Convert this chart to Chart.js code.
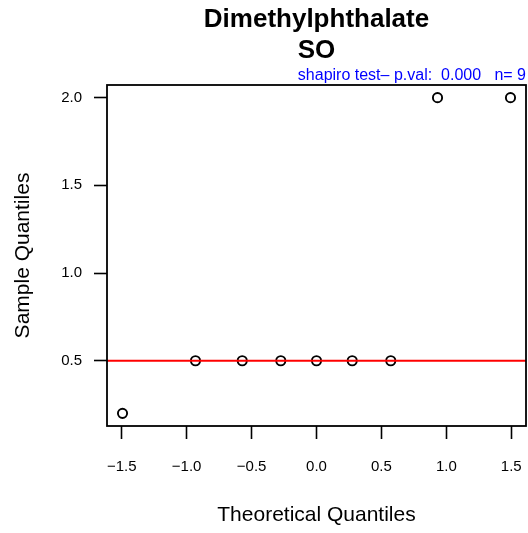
<!DOCTYPE html>
<html>
<head>
<meta charset="utf-8">
<script src="https://cdn.jsdelivr.net/npm/chart.js@4/dist/chart.umd.min.js"></script>
<style>
  html, body { margin: 0; padding: 0; background: #ffffff; }
  #wrap { width: 528px; height: 533px; }
</style>
</head>
<body>
<div id="wrap"><canvas id="c" width="528" height="533"></canvas></div>
<script>
// ---- data ----
const titleLines = ["Dimethylphthalate", "SO"];
const subtitleText = "shapiro test\u2013 p.val:  0.000   n= 9";
const xAxisTitle = "Theoretical Quantiles";
const yAxisTitle = "Sample Quantiles";
const theoreticalQuantiles = [-1.494, -0.932, -0.572, -0.275, 0, 0.275, 0.572, 0.932, 1.494];
const sampleQuantiles = [0.2, 0.5, 0.5, 0.5, 0.5, 0.5, 0.5, 2.0, 2.0];
const qqLineY = [0.5, 0.5];
const qqLineX = [-1.7, 1.7];
const xTicks = [-1.5, -1.0, -0.5, 0.0, 0.5, 1.0, 1.5];
const yTicks = [0.5, 1.0, 1.5, 2.0];
const xRange = [-1.6135, 1.6135];
const yRange = [0.128, 2.072];

const FONT = "'Liberation Sans', Arial, Helvetica, sans-serif";

const points = theoreticalQuantiles.map((x, i) => ({ x: x, y: sampleQuantiles[i] }));
const linePts = qqLineX.map((x, i) => ({ x: x, y: qqLineY[i] }));

function fmt(v) {
  const s = Number(v).toFixed(1);
  return s.replace('-', '\u2212');
}

const boxAndTitles = {
  id: 'boxAndTitles',
  afterDatasetsDraw(chart) {
    const ctx = chart.ctx;
    const a = chart.chartArea;
    ctx.save();
    ctx.strokeStyle = '#000';
    ctx.lineWidth = 1.8;
    ctx.strokeRect(a.left, a.top, a.right - a.left, a.bottom - a.top);
    ctx.restore();
  },
  afterDraw(chart) {
    const ctx = chart.ctx;
    const a = chart.chartArea;
    const cx = (a.left + a.right) / 2;
    ctx.save();
    ctx.fillStyle = '#000';
    ctx.textAlign = 'center';
    ctx.textBaseline = 'alphabetic';
    ctx.font = "bold 26px " + FONT;
    ctx.fillText(titleLines[0], cx, 27);
    ctx.fillText(titleLines[1], cx, 58);
    ctx.fillStyle = '#0000FF';
    ctx.textAlign = 'right';
    ctx.font = "16px " + FONT;
    ctx.fillText(subtitleText, a.right, 80);
    ctx.restore();
  }
};

new Chart(document.getElementById('c'), {
  type: 'scatter',
  data: {
    datasets: [
      {
        type: 'scatter',
        data: points,
        pointStyle: 'circle',
        pointRadius: 4.6,
        pointBorderWidth: 1.9,
        pointBorderColor: '#000',
        pointBackgroundColor: 'rgba(0,0,0,0)',
        order: 2
      },
      {
        type: 'line',
        data: linePts,
        borderColor: '#FF0000',
        borderWidth: 2,
        pointRadius: 0,
        fill: false,
        order: 1
      }
    ]
  },
  options: {
    responsive: false,
    animation: false,
    devicePixelRatio: 1,
    layout: { autoPadding: false, padding: { top: 85, right: 2, left: 0, bottom: 0 } },
    plugins: {
      legend: { display: false },
      tooltip: { enabled: false },
      title: { display: false }
    },
    scales: {
      x: {
        type: 'linear',
        min: xRange[0],
        max: xRange[1],
        afterBuildTicks(scale) { scale.ticks = xTicks.map(v => ({ value: v })); },
        afterFit(scale) { scale.height = 107; scale.paddingLeft = 0; scale.paddingRight = 0; },
        border: { display: false },
        grid: {
          drawOnChartArea: false,
          drawTicks: true,
          tickLength: 13,
          tickWidth: 1.6,
          tickColor: '#000'
        },
        ticks: {
          color: '#000',
          padding: 19,
          maxRotation: 0,
          autoSkip: false,
          font: { family: FONT, size: 15 },
          callback: v => fmt(v)
        },
        title: {
          display: true,
          text: xAxisTitle,
          color: '#000',
          font: { family: FONT, size: 21 },
          padding: { top: 0, bottom: 5 }
        }
      },
      y: {
        type: 'linear',
        min: yRange[0],
        max: yRange[1],
        afterBuildTicks(scale) { scale.ticks = yTicks.map(v => ({ value: v })); },
        afterFit(scale) { scale.width = 107; scale.paddingTop = 0; scale.paddingBottom = 0; },
        border: { display: false },
        grid: {
          drawOnChartArea: false,
          drawTicks: true,
          tickLength: 13,
          tickWidth: 1.6,
          tickColor: '#000'
        },
        ticks: {
          color: '#000',
          padding: 12,
          autoSkip: false,
          font: { family: FONT, size: 15 },
          callback: v => fmt(v)
        },
        title: {
          display: true,
          text: yAxisTitle,
          color: '#000',
          font: { family: FONT, size: 21 },
          padding: { top: 11, bottom: 0 }
        }
      }
    }
  },
  plugins: [boxAndTitles]
});
</script>
</body>
</html>
